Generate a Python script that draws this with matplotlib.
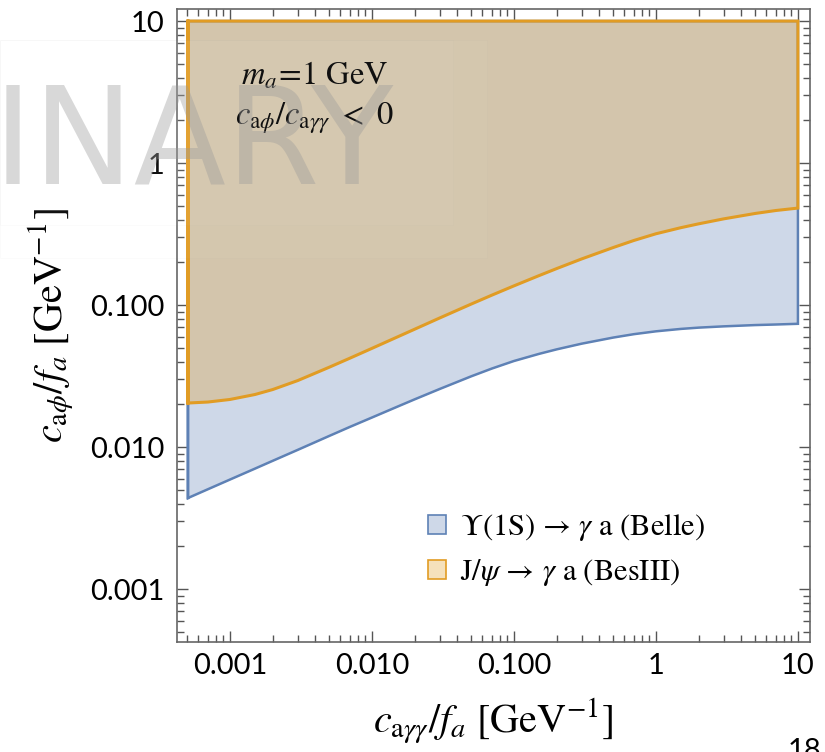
import numpy as np
import matplotlib
matplotlib.use('Agg')
import matplotlib.pyplot as plt
from matplotlib.patches import Patch, Rectangle
from matplotlib.colors import to_rgba
from matplotlib.ticker import LogLocator, NullFormatter

plt.rcParams['mathtext.fontset'] = 'stix'
plt.rcParams['font.family'] = ['Lato', 'DejaVu Sans']

# c_agamma/f_a [GeV^-1] sample points
c_agg = [5.06e-4, 7e-4, 1e-3, 1.5e-3, 2e-3, 3e-3, 5e-3, 7e-3, 1e-2, 1.5e-2, 2e-2, 3e-2,
         5e-2, 7e-2, 0.1, 0.15, 0.2, 0.3, 0.5, 0.7, 1, 1.5, 2, 3, 5, 7, 10]
# lower edge of the Belle (Upsilon(1S)) excluded region
belle = [0.004375, 0.005047, 0.005902, 0.007047, 0.007998, 0.00955, 0.01197, 0.01387,
         0.01614, 0.01919, 0.02168, 0.02564, 0.03148, 0.03573, 0.04036, 0.04529,
         0.04875, 0.05346, 0.05902, 0.06237, 0.06531, 0.06792, 0.06934, 0.07079,
         0.07228, 0.07295, 0.07379]
# lower edge of the BesIII (J/psi) excluded region
besiii = [0.02042, 0.02075, 0.02163, 0.02344, 0.02541, 0.02938, 0.03648, 0.04227,
          0.04955, 0.05943, 0.06761, 0.0811, 0.1016, 0.1175, 0.1365, 0.1611, 0.1807,
          0.2113, 0.2541, 0.2851, 0.3177, 0.3508, 0.3733, 0.4046, 0.4416, 0.4634, 0.4819]
y_top = 10  # upper end of the scanned range

xticks = [1e-3, 1e-2, 1e-1, 1, 10]
xticklabels = ['0.001', '0.010', '0.100', '1', '10']
yticks = [1e-3, 1e-2, 1e-1, 1, 10]
yticklabels = ['0.001', '0.010', '0.100', '1', '10']

blue = '#5e81b5'
orange = '#e19c24'

fig = plt.figure(figsize=(8.25, 7.52), dpi=100)
ax = fig.add_axes([177/825, 1-642/752, 633/825, 633/752])
ax.set_xscale('log')
ax.set_yscale('log')

x = np.array(c_agg)
for lower, col, lw in [(np.array(belle), blue, 1.8), (np.array(besiii), orange, 2.2)]:
    ax.fill_between(x, lower, y_top, color=col, alpha=0.3, linewidth=0)
    px = np.concatenate([[x[0]], x, [x[-1], x[0], x[0]]])
    py = np.concatenate([[y_top], lower, [y_top, y_top, lower[0]]])
    ax.plot(px, py, color=col, lw=lw, solid_joinstyle='miter')

ax.set_xlim(10**-3.373, 10**1.085)
ax.set_ylim(10**-3.373, 10**1.085)

ax.set_xticks(xticks)
ax.set_xticklabels(xticklabels)
ax.set_yticks(yticks)
ax.set_yticklabels(yticklabels)
for a in (ax.xaxis, ax.yaxis):
    a.set_minor_locator(LogLocator(base=10, subs=np.arange(2, 10), numticks=20))
    a.set_minor_formatter(NullFormatter())
ax.tick_params(which='both', direction='in', top=True, right=True,
               color='#555555', labelsize=21, width=1)
ax.tick_params(which='major', length=8)
ax.tick_params(which='minor', length=5)
ax.tick_params(axis='x', pad=8)
ax.tick_params(axis='y', pad=9)
for s in ax.spines.values():
    s.set_color('#666666')
    s.set_linewidth(1.2)

ax.set_xlabel(r'$c_{\mathrm{a}\gamma\gamma}/f_a\ [\mathrm{GeV}^{-1}]$', fontsize=29, labelpad=12)
ax.set_ylabel(r'$c_{\mathrm{a}\phi}/f_a\ [\mathrm{GeV}^{-1}]$', fontsize=29, labelpad=10)

ax.text(0.218, 0.896, r'$m_a\!=\!1\ \mathrm{GeV}$', transform=ax.transAxes,
        ha='center', va='center', fontsize=23.5)
ax.text(0.218, 0.828, r'$c_{\mathrm{a}\phi}/c_{\mathrm{a}\gamma\gamma}\ <\ 0$', transform=ax.transAxes,
        ha='center', va='center', fontsize=23.5)

handles = [Patch(facecolor=to_rgba(blue, 0.3), edgecolor=blue, lw=1.2),
           Patch(facecolor=to_rgba(orange, 0.3), edgecolor=orange, lw=1.2)]
labels = [r'$\Upsilon(1\mathrm{S})\,\rightarrow\,\gamma\ \mathrm{a}\ (\mathrm{Belle})$',
          r'$\mathrm{J}/\psi\,\rightarrow\,\gamma\ \mathrm{a}\ (\mathrm{BesIII})$']
ax.legend(handles, labels, loc='center left', bbox_to_anchor=(0.396, 0.145),
          frameon=False, fontsize=22, borderaxespad=0, borderpad=0,
          handlelength=0.6, handleheight=0.6, handletextpad=0.45, labelspacing=0.45)

# slide overlay leftovers: faint boxes and the PRELIMINARY watermark
fig.patches.append(Rectangle((0, 1-258/752), 487/825, 218/752, transform=fig.transFigure,
                             facecolor='white', alpha=0.035, edgecolor='#999999', lw=0.6))
fig.patches.append(Rectangle((0, 1-225/752), 453/825, 185/752, transform=fig.transFigure,
                             facecolor='white', alpha=0.035, edgecolor='#999999', lw=0.6))
fig.text(0.477, 1-184/752, 'PRELIMINARY', ha='right', va='baseline', fontsize=97,
         family='DejaVu Sans', color='#999999', alpha=0.38)

fig.text(0.955, 1-738/752, '18', ha='left', va='top', fontsize=21)

fig.savefig('out.png', dpi=100)
